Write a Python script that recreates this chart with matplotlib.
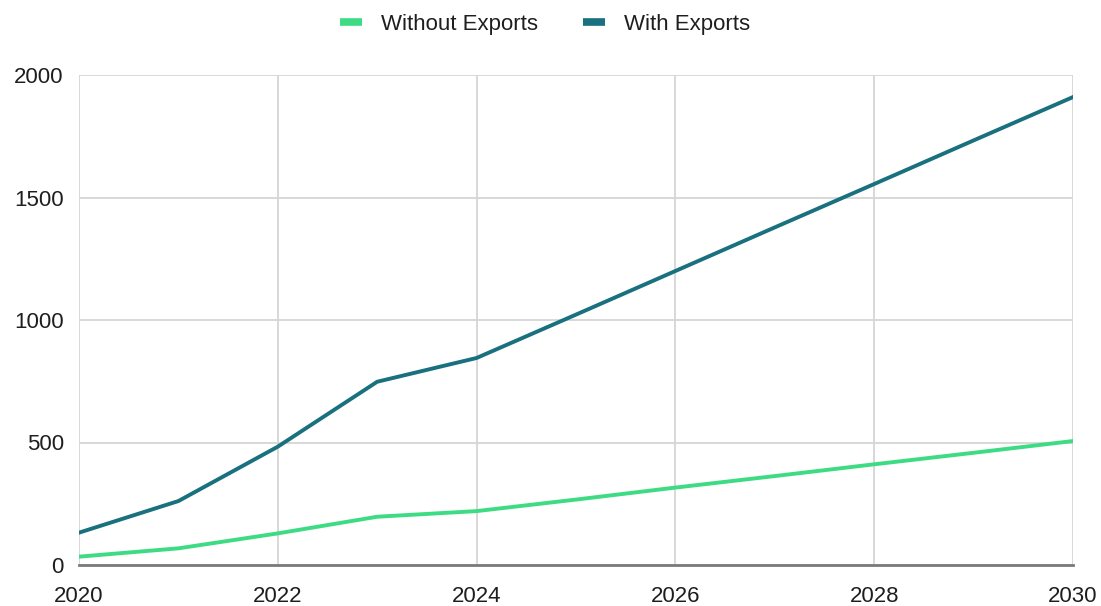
import matplotlib
matplotlib.use("Agg")
import matplotlib.pyplot as plt

years = [2020, 2021, 2022, 2023, 2024, 2025, 2026, 2027, 2028, 2029, 2030]
without_exports = [34, 68, 129, 197, 220, 267, 316, 363, 411, 458, 506]
with_exports = [132, 261, 483, 748, 845, 1022, 1200, 1378, 1555, 1733, 1910]
x_ticks = [2020, 2022, 2024, 2026, 2028, 2030]
y_ticks = [0, 500, 1000, 1500, 2000]

plt.rcParams['font.family'] = ['Liberation Sans', 'DejaVu Sans']

W, H = 1101, 606
fig = plt.figure(figsize=(W / 100, H / 100), dpi=100)
ax = fig.add_axes([79 / W, (H - 565) / H, (1073 - 79) / W, (565 - 75) / H])

green = '#3ddc84'
teal = '#19707e'

ax.plot(years, without_exports, color=green, lw=2.8, label='Without Exports', solid_joinstyle='round')
ax.plot(years, with_exports, color=teal, lw=2.8, label='With Exports', solid_joinstyle='round')

ax.set_xlim(2020, 2030)
ax.set_ylim(0, 2000)
ax.set_xticks(x_ticks)
ax.set_yticks(y_ticks)
ax.set_xticklabels([str(t) for t in x_ticks])
ax.set_yticklabels([str(t) for t in y_ticks])
ax.grid(True, color='#d6d6d6', lw=1.3)
ax.set_axisbelow(True)
for s in ['top', 'right', 'left']:
    ax.spines[s].set_visible(False)
ax.spines['bottom'].set_color('#7a7a7a')
ax.spines['bottom'].set_linewidth(2)
ax.tick_params(axis='both', length=0, labelsize=16, colors='#1e1e1e')
ax.tick_params(axis='x', pad=15)
ax.tick_params(axis='y', pad=11)

leg = fig.legend(loc='upper center', bbox_to_anchor=(0.495, 1.01), ncol=2, frameon=False,
                 fontsize=16, handlelength=1.0, handletextpad=0.85, columnspacing=2.0)
for h in leg.get_lines():
    h.set_linewidth(5.5)
    h.set_solid_capstyle('butt')
for t in leg.get_texts():
    t.set_color('#1e1e1e')

fig.savefig('out.png', dpi=100)
